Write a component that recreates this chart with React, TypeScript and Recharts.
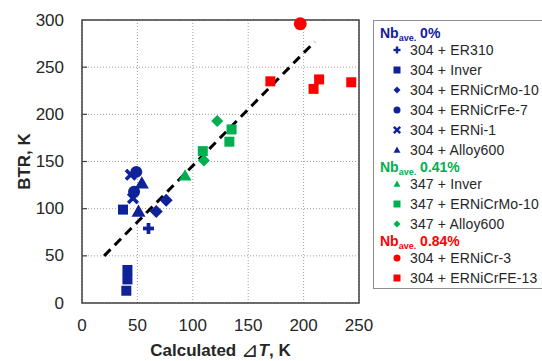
import React from 'react';
import { ScatterChart, Scatter, XAxis, YAxis, CartesianGrid, ReferenceLine, ReferenceArea, Label } from 'recharts';

const BLUE = '#10229a';
const GREEN = '#00b050';
const RED = '#ff0000';
const FONT = '"Liberation Sans", Arial, sans-serif';

// Nb 0 % (304 base metal)
const er310_304 = [{ x: 60, y: 79 }];
const inver_304 = [{ x: 40, y: 13 }, { x: 41, y: 25 }, { x: 41, y: 35 }, { x: 37, y: 99 }];
const erNiCrMo10_304 = [{ x: 67, y: 97 }, { x: 76, y: 109 }];
const erNiCrFe7_304 = [{ x: 49, y: 139 }, { x: 47, y: 118 }];
const erNi1_304 = [{ x: 44, y: 136 }, { x: 46, y: 111 }];
const alloy600_304 = [{ x: 54, y: 127 }, { x: 51, y: 97 }];

// Nb 0.41 % (347 base metal)
const inver_347 = [{ x: 93, y: 135 }];
const erNiCrMo10_347 = [{ x: 109, y: 161 }, { x: 133, y: 171 }, { x: 135, y: 184 }];
const alloy600_347 = [{ x: 110, y: 151 }, { x: 122, y: 193 }];

// Nb 0.84 %
const erNiCr3_304 = [{ x: 197, y: 296 }];
const erNiCrFe13_304 = [{ x: 170, y: 235 }, { x: 214, y: 237 }, { x: 209, y: 227 }, { x: 243, y: 234 }];

const trendLine = [{ x: 20, y: 50 }, { x: 210, y: 277 }];

const xTicks = [0, 50, 100, 150, 200, 250];
const yTicks = [0, 50, 100, 150, 200, 250, 300];

type Kind = 'plus' | 'square' | 'diamond' | 'circle' | 'cross' | 'triangle';

const series: { name: string; data: { x: number; y: number }[]; kind: Kind; color: string; size: number }[] = [
  { name: '304 + ER310', data: er310_304, kind: 'plus', color: BLUE, size: 11 },
  { name: '304 + Inver', data: inver_304, kind: 'square', color: BLUE, size: 10 },
  { name: '304 + ERNiCrMo-10', data: erNiCrMo10_304, kind: 'diamond', color: BLUE, size: 13 },
  { name: '304 + ERNiCrFe-7', data: erNiCrFe7_304, kind: 'circle', color: BLUE, size: 12 },
  { name: '304 + ERNi-1', data: erNi1_304, kind: 'cross', color: BLUE, size: 12 },
  { name: '304 + Alloy600', data: alloy600_304, kind: 'triangle', color: BLUE, size: 14 },
  { name: '347 + Inver', data: inver_347, kind: 'triangle', color: GREEN, size: 13 },
  { name: '347 + ERNiCrMo-10', data: erNiCrMo10_347, kind: 'square', color: GREEN, size: 10 },
  { name: '347 + Alloy600', data: alloy600_347, kind: 'diamond', color: GREEN, size: 12 },
  { name: '304 + ERNiCr-3', data: erNiCr3_304, kind: 'circle', color: RED, size: 13 },
  { name: '304 + ERNiCrFE-13', data: erNiCrFe13_304, kind: 'square', color: RED, size: 10 },
];

const groups = [
  { pct: '0%', color: BLUE, items: series.slice(0, 6) },
  { pct: '0.41%', color: GREEN, items: series.slice(6, 9) },
  { pct: '0.84%', color: RED, items: series.slice(9, 11) },
];

function Marker({ kind, cx, cy, color, s }: { kind: Kind; cx: number; cy: number; color: string; s: number }) {
  const h = s / 2;
  if (kind === 'plus') {
    const t = s * 0.34;
    return (
      <g fill={color}>
        <rect x={cx - h} y={cy - t / 2} width={s} height={t} />
        <rect x={cx - t / 2} y={cy - h} width={t} height={s} />
      </g>
    );
  }
  if (kind === 'square') return <rect x={cx - h} y={cy - h} width={s} height={s} fill={color} />;
  if (kind === 'diamond')
    return <polygon points={`${cx},${cy - h} ${cx + h},${cy} ${cx},${cy + h} ${cx - h},${cy}`} fill={color} />;
  if (kind === 'circle') return <circle cx={cx} cy={cy} r={h} fill={color} />;
  if (kind === 'cross') {
    const a = h * 0.8;
    return (
      <g stroke={color} strokeWidth={s * 0.3}>
        <line x1={cx - a} y1={cy - a} x2={cx + a} y2={cy + a} />
        <line x1={cx - a} y1={cy + a} x2={cx + a} y2={cy - a} />
      </g>
    );
  }
  return <polygon points={`${cx},${cy - h} ${cx + h},${cy + h * 0.75} ${cx - h},${cy + h * 0.75}`} fill={color} />;
}

const YTick = (p: any) => {
  const v = p.payload.value;
  return (
    <g>
      <text x={p.x} y={p.y} textAnchor="end" dominantBaseline="central" fontSize={17} fill="#262626" fontFamily={FONT}>
        {v}
      </text>
      {v > 0 && v < 300 && <line x1={p.x + 18} x2={p.x + 23} y1={p.y} y2={p.y} stroke="#404040" strokeWidth={1.2} />}
    </g>
  );
};

const XTick = (p: any) => (
  <text x={p.x} y={p.y} textAnchor="middle" dominantBaseline="central" fontSize={17} fill="#262626" fontFamily={FONT}>
    {p.payload.value}
  </text>
);

const XTitle = (p: any) => {
  const vb = p.viewBox;
  return (
    <text x={vb.x + vb.width / 2} y={vb.y + 47} textAnchor="middle" dominantBaseline="central" fontSize={17} fontWeight="bold" fill="#262626" fontFamily={FONT}>
      Calculated <tspan fontWeight="normal" fontSize={21} fontFamily="DejaVu Sans">⊿</tspan><tspan fontStyle="italic">T</tspan>, K
    </text>
  );
};

const YTitle = (p: any) => {
  const vb = p.viewBox;
  const cx = vb.x + 24;
  const cy = vb.y + vb.height / 2;
  return (
    <text x={cx} y={cy} transform={`rotate(-90 ${cx} ${cy})`} textAnchor="middle" dominantBaseline="central" fontSize={17} fontWeight="bold" fill="#262626" fontFamily={FONT}>
      BTR, K
    </text>
  );
};

function LegendBox() {
  return (
    <div
      style={{
        position: 'absolute',
        left: 373,
        top: 20,
        width: 200,
        height: 269,
        boxSizing: 'border-box',
        border: '1.5px solid #8c8c8c',
        background: '#fff',
        paddingTop: 5,
        fontFamily: FONT,
        color: '#262626',
      }}
    >
      {groups.map((g) => (
        <div key={g.pct}>
          <div style={{ height: 14, lineHeight: '14px', paddingLeft: 6, color: g.color, fontWeight: 'bold', fontSize: 14, whiteSpace: 'nowrap' }}>
            Nb<span style={{ fontSize: 9, verticalAlign: -3 }}>ave.</span> {g.pct}
          </div>
          {g.items.map((s) => (
            <div key={s.name} style={{ height: 20, display: 'flex', alignItems: 'center', whiteSpace: 'nowrap', fontSize: 14, letterSpacing: 0.15 }}>
              <svg width={12} height={12} style={{ marginLeft: 17, marginRight: 7 }}>
                <Marker kind={s.kind} cx={6} cy={6} color={s.color} s={s.kind === 'cross' ? 8 : 7} />
              </svg>
              {s.name}
            </div>
          ))}
        </div>
      ))}
    </div>
  );
}

export default function App() {
  return (
    <div style={{ position: 'absolute', left: 0, top: 0, width: 542, height: 361, background: '#fff', overflow: 'hidden' }}>
      <ScatterChart width={542} height={361} margin={{ top: 20, right: 183, bottom: 0, left: 0 }}>
        <CartesianGrid strokeDasharray="1 2" stroke="#a0a0a0" />
        <XAxis
          dataKey="x"
          type="number"
          domain={[0, 250]}
          ticks={xTicks}
          axisLine={false}
          tickLine={false}
          tickSize={0}
          tickMargin={22}
          height={58}
          tick={XTick}
          interval={0}
        >
          <Label content={XTitle} />
        </XAxis>
        <YAxis
          dataKey="y"
          type="number"
          domain={[0, 300]}
          ticks={yTicks}
          axisLine={false}
          tickLine={false}
          tickSize={0}
          tickMargin={18}
          width={82}
          tick={YTick}
          interval={0}
        >
          <Label content={YTitle} />
        </YAxis>
        <ReferenceArea x1={0} x2={250} y1={0} y2={300} fill="none" stroke="#404040" strokeWidth={1.5} />
        <ReferenceLine segment={trendLine} stroke="#000" strokeWidth={3} strokeDasharray="9 6" />
        {series.map((s) => (
          <Scatter
            key={s.name}
            name={s.name}
            data={s.data}
            isAnimationActive={false}
            shape={(p: any) => <Marker kind={s.kind} cx={p.cx} cy={p.cy} color={s.color} s={s.size} />}
          />
        ))}
      </ScatterChart>
      <LegendBox />
    </div>
  );
}
